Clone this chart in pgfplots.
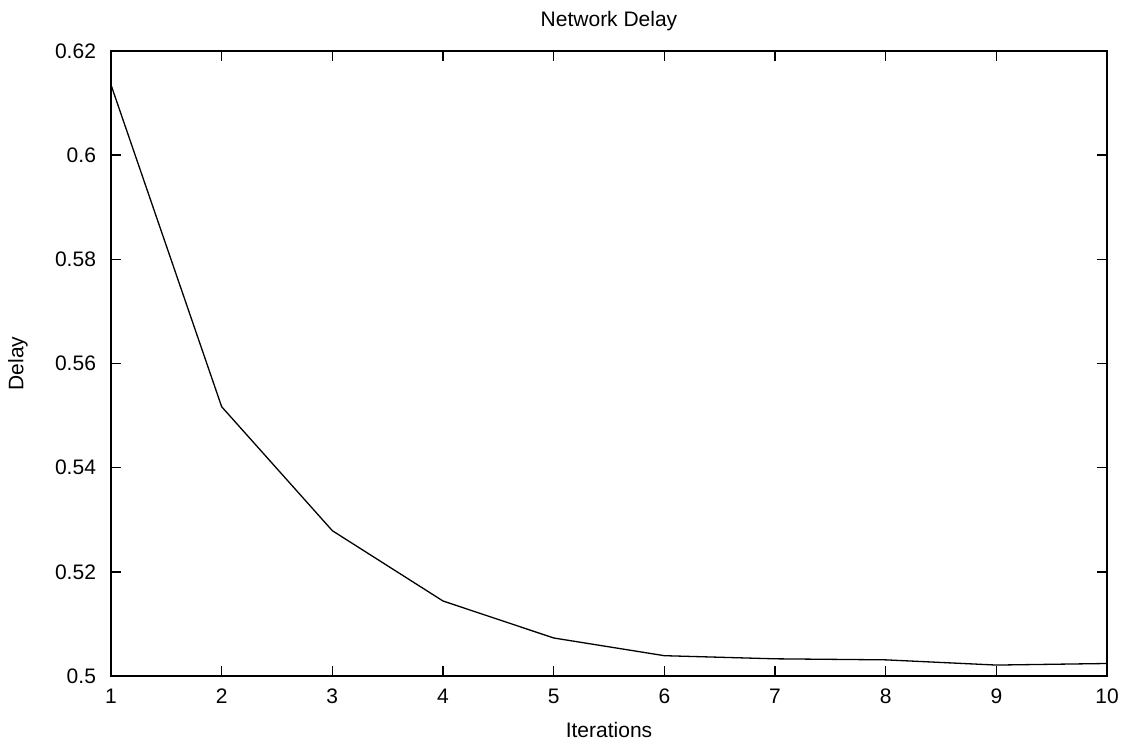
\documentclass[border=0pt]{standalone}
\usepackage{pgfplots}
\pgfplotsset{compat=1.18}
\usepackage{fontspec}
\setmainfont{Liberation Sans}
\begin{document}
\begin{tikzpicture}
\begin{axis}[
  scale only axis,
  width=498pt, height=312.5pt,
  xmin=1, xmax=10, ymin=0.5, ymax=0.62,
  xtick={1,...,10},
  ytick={0.5,0.52,0.54,0.56,0.58,0.6,0.62},
  yticklabels={0.5,0.52,0.54,0.56,0.58,0.6,0.62},
  tick align=inside,
  major tick length=5pt,
  tick style={black, line width=0.7pt},
  axis line style={line width=0.9pt},
  /pgf/number format/assume math mode=true,
  font=\fontsize{10.5}{12}\selectfont,
  ticklabel style={font=\fontsize{10.5}{12}\selectfont},
  xticklabel style={anchor=center, yshift=-10pt},
  yticklabel style={anchor=east, xshift=-4pt},
  title={Network Delay},
  title style={at={(axis description cs:0.5,1.0288)}, anchor=center},
  xlabel={Iterations},
  ylabel={Delay},
  xlabel style={at={(axis description cs:0.5,-0.0864)}, anchor=center},
  ylabel style={at={(axis description cs:-0.0934,0.5)}, anchor=center},
  scaled y ticks=false,
]
\addplot[black, line width=0.65pt] coordinates {
(1,0.6135) (2,0.5517) (3,0.5279) (4,0.5144) (5,0.5073) (6,0.5039) (7,0.5033) (8,0.5031) (9,0.5021) (10,0.5024)
};
\end{axis}
\pgfresetboundingbox
\path ([shift={(-55.5pt,-33.5pt)}]current axis.south west) rectangle ([shift={(12.5pt,25.5pt)}]current axis.north east);
\end{tikzpicture}
\end{document}
